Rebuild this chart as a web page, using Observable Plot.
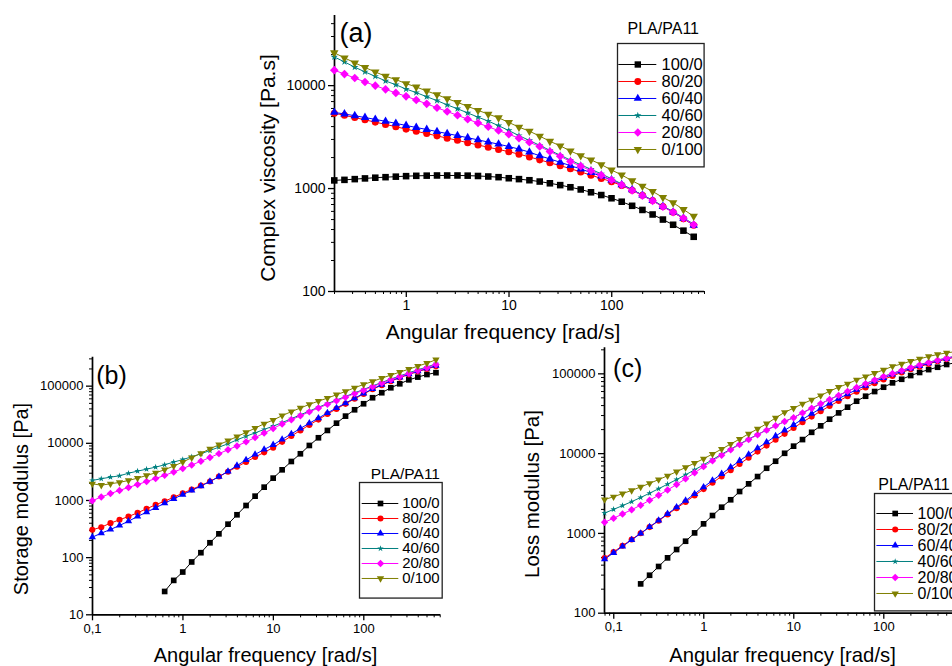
<!DOCTYPE html>
<html><head><meta charset="utf-8">
<script src="https://cdn.jsdelivr.net/npm/d3@7"></script>
<script src="https://cdn.jsdelivr.net/npm/@observablehq/plot@0.6"></script>
<style>
html,body{margin:0;padding:0;overflow:hidden;background:#fff;}
#fig{position:relative;width:952px;height:666px;overflow:hidden;background:#fff;font-family:"Liberation Sans",Arial,sans-serif;color:#000;}
.t{position:absolute;white-space:nowrap;line-height:1;transform:translate(-50%,-50%);}
.r{transform:translate(-50%,-50%) rotate(-90deg);}
.rt{transform:translate(-100%,-50%);}
.lt{transform:translate(0,-50%);}
</style></head><body><div id="fig"></div>
<script>
// ---------- data ----------
const freq = [0.0791,0.0995,0.125,0.158,0.199,0.250,0.315,0.396,0.499,0.628,0.791,0.995,1.25,1.58,1.99,2.50,3.15,3.96,4.99,6.28,7.91,9.95,12.5,15.8,19.9,25.0,31.5,39.6,49.9,62.8,79.1,99.5,125,158,199,250,315,396,499,628];
const blends = ["100/0","80/20","60/40","40/60","20/80","0/100"];

// (a) complex viscosity [Pa.s], from 0.199 rad/s
const eta_100_0 = [1200,1215,1235,1255,1275,1290,1305,1320,1330,1335,1340,1340,1340,1335,1325,1310,1290,1260,1235,1205,1170,1125,1080,1030,980,920,865,805,745,680,620,560,500,445,390,340];
const eta_80_20 = [5400,5150,4900,4650,4420,4200,3990,3780,3600,3420,3250,3090,2940,2790,2650,2520,2400,2280,2160,2030,1900,1780,1670,1560,1450,1350,1255,1167,1070,965,860,765,670,590,510,440];
const eta_60_40 = [5500,5300,5100,4900,4700,4500,4300,4100,3920,3750,3580,3420,3270,3120,2970,2830,2700,2560,2420,2260,2080,1940,1800,1670,1550,1430,1320,1211,1090,975,865,765,670,590,515,440];
const eta_40_60 = [19000,17000,15100,13600,12300,11100,10200,9260,8560,7800,7150,6500,5960,5430,4940,4520,4080,3660,3270,2930,2630,2350,2110,1890,1700,1540,1390,1245,1110,975,865,770,675,600,520,451];
const eta_20_80 = [14130,12950,11850,10850,10000,9200,8500,7870,7250,6650,6100,5600,5150,4720,4330,3980,3660,3370,3090,2820,2560,2290,2060,1830,1650,1490,1350,1211,1085,960,855,760,665,590,515,445];
const eta_0_100 = [20840,18620,16640,14990,13590,12330,11450,10460,9700,8870,8170,7470,6880,6290,5750,5290,4870,4390,3950,3610,3230,2880,2600,2320,2090,1900,1710,1515,1355,1190,1057,938,820,728,626,539];

// (b) storage modulus G' [Pa], from 0.0995 rad/s (100/0 from 0.628 rad/s)
const Gp_100_0 = [25.6,40,56,84,122,182,261,385,562,817,1190,1710,2460,3440,4810,6560,9170,12500,16800,22500,29900,38600,49200,62700,76700,93700,110000,129000,144000,160000,172000];
const Gp_80_20 = [307,341,401,459,525,609,716,841,972,1140,1340,1560,1830,2150,2620,3190,3880,4720,5750,6950,8400,10600,13400,16800,21000,26000,32500,40000,49000,60000,73000,88000,104000,122000,141000,160000,180000,200000,222000];
const Gp_60_40 = [228,268,311,365,434,525,625,745,897,1070,1270,1500,1790,2140,2600,3230,4080,5110,6390,7800,9400,11700,14600,18200,22500,27600,34000,41500,50500,61500,74500,89500,106000,124000,143000,163000,183000,204000,228000];
const Gp_40_60 = [2240,2400,2560,2700,3000,3260,3530,3830,4210,4700,5200,5800,6560,7500,8570,9810,11500,13300,15200,17500,20000,23000,27000,31500,36700,42800,49500,57200,66000,76200,87500,101000,116000,133000,151000,171000,193000,216000,246000];
const Gp_20_80 = [990,1150,1320,1500,1690,1900,2140,2420,2750,3150,3620,4180,4850,5650,6600,7700,9000,10600,12600,15100,18200,21800,25800,30300,35500,41500,48000,55500,64000,74000,85000,98000,113000,129000,147000,166000,187000,210000,240000];
const Gp_0_100 = [1960,1850,1960,2070,2240,2460,2740,3050,3450,4000,4700,5600,6700,8000,9450,11100,13100,15500,18400,22000,25500,30500,35800,41500,47900,54700,61700,70800,80800,93700,107000,121000,138000,156000,176000,198000,224000,252000,290000];

// (c) loss modulus G'' [Pa], from 0.0791 rad/s (100/0 from 0.199 rad/s)
const Gpp_100_0 = [233,299,385,494,628,798,1015,1318,1675,2130,2640,3350,4180,5160,6560,8030,10100,12400,15000,18500,22300,27000,32400,38200,45400,52400,60000,68000,77100,85500,95200,104000,113000,121000,131000,138000];
const Gpp_80_20 = [490,586,701,840,1005,1200,1440,1730,2070,2480,2990,3590,4320,5180,6210,7430,8870,10600,12600,14900,17700,21000,24800,29100,34000,39500,45600,52400,59700,67600,76200,85100,94200,104000,114000,123000,133000,144000,153000,163000];
const Gpp_60_40 = [475,571,687,828,998,1205,1455,1760,2130,2580,3130,3800,4610,5580,6750,8130,9750,11700,13900,16600,19600,23000,27000,31600,36800,42600,48900,55800,63400,71400,80200,89100,98200,107000,117000,126000,136000,146000,155000,164000];
const Gpp_40_60 = [1800,2000,2230,2500,2820,3190,3630,4140,4730,5430,6270,7240,8410,9820,11400,13200,15200,17400,19800,22400,25300,28300,32500,37100,42200,47800,53900,60600,67800,75600,84000,93000,101500,110500,120500,130000,140000,149000,158000,167000];
const Gpp_20_80 = [1380,1550,1750,1980,2260,2600,3010,3500,4100,4840,5750,6870,8130,9550,11200,13000,15000,17200,19700,22300,25200,28200,32400,37000,42100,47600,53700,60300,67500,75200,83600,92500,101000,110000,120000,129000,139000,148000,157000,166000];
const Gpp_0_100 = [2660,2880,3150,3460,3820,4240,4720,5280,5940,6710,7600,8610,9890,11400,13200,15200,17700,20400,23700,28000,33000,37100,42100,47200,53500,60600,68000,75000,84100,92500,102000,112000,124000,133000,144000,154000,165000,175000,183000,190000];

// tick values
const xTicksA = [1,10,100];
const yTicksA = [100,1000,10000];
const xTicksBC = [0.1,1,10,100];
const yTicksB = [10,100,1000,10000,100000];
const yTicksC = [100,1000,10000,100000];

// ---------- styles ----------
const colors = ["#000000","#ff0000","#0000ff","#008080","#ff00ff","#808000"];
const triDown = {draw(ctx, size) {
  const y = -Math.sqrt(size / (Math.sqrt(3) * 3));
  ctx.moveTo(0, -y * 2); ctx.lineTo(-Math.sqrt(3) * y, y); ctx.lineTo(Math.sqrt(3) * y, y); ctx.closePath();
}};
const symbols = ["square","circle","triangle","star","diamond2",triDown];
const symScale = [1, 0.95, 0.85, 0.62, 1.05, 0.85];
const FONT = '"Liberation Sans", Arial, sans-serif';
const fig = document.getElementById("fig");

function rows(vals) {
  const off = freq.length - vals.length;
  return vals.map((v, i) => ({f: freq[off + i], v}));
}
const fmtTick = d => d === 0.1 ? "0,1" : String(d);
const isPow10 = t => Math.abs(Math.log10(t) - Math.round(Math.log10(t))) < 1e-9;

function place(el, left, top) {
  el.style.position = "absolute"; el.style.left = left + "px"; el.style.top = top + "px";
  fig.appendChild(el);
}

function panel({left, top, width, height, frame, xDomain, yDomain, xTicks, yTicks, series, r, tickFont}) {
  const [fx0, fy0, fx1, fy1] = frame;
  const minorX = d3.scaleLog().domain(xDomain).ticks().filter(t => !isPow10(t));
  const minorY = d3.scaleLog().domain(yDomain).ticks().filter(t => !isPow10(t));
  const marks = [
    Plot.axisX(minorX, {anchor: "bottom", tickSize: 3, tickFormat: () => "", label: null}),
    Plot.axisY(minorY, {anchor: "left", tickSize: 3, tickFormat: () => "", label: null}),
    Plot.axisX(xTicks, {anchor: "bottom", tickSize: 6, tickPadding: 3, tickFormat: fmtTick, fontSize: tickFont, label: null, strokeWidth: 1.3}),
    Plot.axisY(yTicks, {anchor: "left", tickSize: 6, tickPadding: 3, tickFormat: d => String(d), fontSize: tickFont, label: null, strokeWidth: 1.3}),
    Plot.ruleX([xDomain[0]], {strokeWidth: 1.7}),
    Plot.ruleY([yDomain[0]], {strokeWidth: 1.7})
  ];
  series.forEach((vals, i) => {
    const d = rows(vals);
    marks.push(Plot.line(d, {x: "f", y: "v", stroke: colors[i], strokeWidth: 1}));
    marks.push(Plot.dot(d, {x: "f", y: "v", symbol: symbols[i], fill: colors[i], r: r * symScale[i]}));
  });
  const svg = Plot.plot({
    width, height,
    marginLeft: fx0 - left, marginRight: left + width - fx1,
    marginTop: fy0 - top, marginBottom: top + height - fy1,
    x: {type: "log", domain: xDomain, axis: null},
    y: {type: "log", domain: yDomain, axis: null},
    style: {fontFamily: FONT, color: "#000", background: "none", overflow: "visible"},
    marks
  });
  place(svg, left, top);
}

function legend({boxLeft, boxTop, boxW, boxH, rowFirst, rowStep, lineX0, lineX1, textX, fontSize, r}) {
  const L = boxLeft - 1, T = boxTop - 1, W = boxW + 2, H = boxH + 2;
  const marks = [Plot.frame({stroke: "#222", strokeWidth: 1.3})];
  blends.forEach((b, i) => {
    marks.push(Plot.ruleY([b], {y: d => d, x1: () => 0, x2: () => 1, stroke: colors[i], strokeWidth: 1}));
    marks.push(Plot.dot([b], {x: () => 0.5, y: d => d, symbol: symbols[i], fill: colors[i], r: r * symScale[i]}));
  });
  marks.push(Plot.text(blends, {x: () => 1, y: d => d, dx: textX - lineX1, textAnchor: "start", fontSize, fill: "#000"}));
  const svg = Plot.plot({
    width: W, height: H, margin: 1,
    x: {type: "linear", domain: [0, 1], range: [lineX0 - L, lineX1 - L], axis: null},
    y: {type: "point", domain: blends, range: [rowFirst - T, rowFirst + 5 * rowStep - T], axis: null},
    style: {fontFamily: FONT, color: "#000", background: "#fff", overflow: "visible"},
    marks
  });
  place(svg, L, T);
}

function txt(s, x, y, size, cls) {
  const d = document.createElement("div");
  d.className = "t " + (cls || "");
  d.textContent = s;
  d.style.left = x + "px"; d.style.top = y + "px"; d.style.fontSize = size + "px";
  fig.appendChild(d);
}

// ---------- panel (a) ----------
panel({left: 250, top: 0, width: 470, height: 320, frame: [334, 15, 704, 291],
  xDomain: [0.2, 800], yDomain: [100, 48000], xTicks: xTicksA, yTicks: yTicksA,
  series: [eta_100_0, eta_80_20, eta_60_40, eta_40_60, eta_20_80, eta_0_100], r: 3.7, tickFont: 14});
legend({boxLeft: 616.7, boxTop: 43.3, boxW: 86.6, boxH: 123.4, rowFirst: 55, rowStep: 20.55,
  lineX0: 618, lineX1: 656, textX: 660.7, fontSize: 16.5, r: 3.6});
txt("Complex viscosity [Pa.s]", 267, 167.5, 21, "r");
txt("Angular frequency [rad/s]", 503, 331, 21);
txt("(a)", 356, 33, 27);
txt("PLA/PA11", 699, 29, 16, "rt");

// ---------- panel (b) ----------
panel({left: 0, top: 340, width: 460, height: 326, frame: [92, 356.7, 440, 614.3],
  xDomain: [0.1, 705], yDomain: [10, 321000], xTicks: xTicksBC, yTicks: yTicksB,
  series: [Gp_100_0, Gp_80_20, Gp_60_40, Gp_40_60, Gp_20_80, Gp_0_100], r: 3.2, tickFont: 13});
legend({boxLeft: 359, boxTop: 481.7, boxW: 82.7, boxH: 115.6, rowFirst: 492.7, rowStep: 19.1,
  lineX0: 361.7, lineX1: 398.3, textX: 401.7, fontSize: 15, r: 3.2});
txt("Storage modulus [Pa]", 20.7, 499, 20, "r");
txt("Angular frequency [rad/s]", 265.5, 655, 20);
txt("(b)", 111.5, 375, 25);
txt("PLA/PA11", 440, 474, 15.5, "rt");

// ---------- panel (c) ----------
panel({left: 480, top: 340, width: 500, height: 326, frame: [604, 347.3, 973.3, 612.7],
  xDomain: [0.0789, 1000], yDomain: [100, 212000], xTicks: xTicksBC, yTicks: yTicksC,
  series: [Gpp_100_0, Gpp_80_20, Gpp_60_40, Gpp_40_60, Gpp_20_80, Gpp_0_100], r: 3.2, tickFont: 13});
legend({boxLeft: 874.3, boxTop: 493.3, boxW: 84, boxH: 117.4, rowFirst: 503.3, rowStep: 20,
  lineX0: 876.7, lineX1: 913.3, textX: 917.3, fontSize: 16, r: 3.2});
txt("Loss modulus [Pa]", 531.7, 494, 20.4, "r");
txt("Angular frequency [rad/s]", 782.5, 655, 20.3);
txt("(c)", 627.7, 368, 25);
txt("PLA/PA11", 878.3, 485, 16, "lt");
</script></body></html>
